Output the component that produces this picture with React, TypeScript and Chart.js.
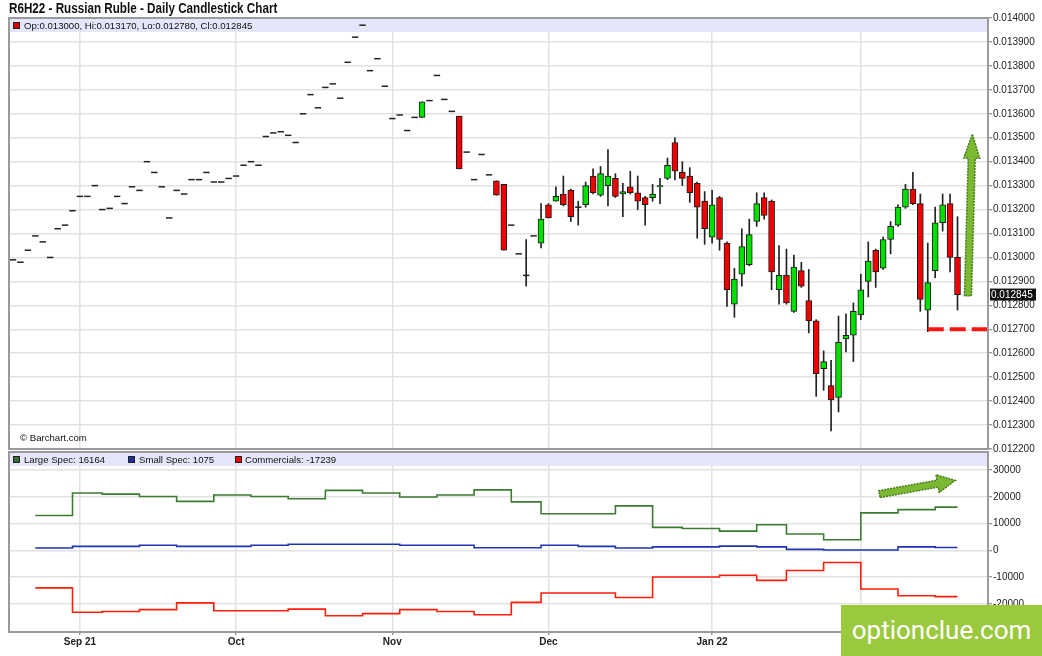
import { useEffect, useRef } from "react";
import { Chart, registerables } from "chart.js";

Chart.register(...registerables);

const FONT = "'Liberation Sans', Arial, Helvetica, sans-serif";
Chart.defaults.font.family = FONT;
Chart.defaults.color = "#222";

// trading days, Aug 19 2021 .. Feb 18 2022 (M/D)
const DATES = [
  "8/19", "8/20", "8/23", "8/24", "8/25", "8/26", "8/27", "8/30", "8/31",
  "9/1", "9/2", "9/3", "9/7", "9/8", "9/9", "9/10", "9/13", "9/14", "9/15", "9/16", "9/17",
  "9/20", "9/21", "9/22", "9/23", "9/24", "9/27", "9/28", "9/29", "9/30",
  "10/1", "10/4", "10/5", "10/6", "10/7", "10/8", "10/11", "10/12", "10/13", "10/14", "10/15",
  "10/18", "10/19", "10/20", "10/21", "10/22", "10/25", "10/26", "10/27", "10/28", "10/29",
  "11/1", "11/2", "11/3", "11/4", "11/5", "11/8", "11/9", "11/10", "11/11", "11/12",
  "11/15", "11/16", "11/17", "11/18", "11/19", "11/22", "11/23", "11/24", "11/26", "11/29", "11/30",
  "12/1", "12/2", "12/3", "12/6", "12/7", "12/8", "12/9", "12/10", "12/13", "12/14", "12/15",
  "12/16", "12/17", "12/20", "12/21", "12/22", "12/23", "12/27", "12/28", "12/29", "12/30", "12/31",
  "1/3", "1/4", "1/5", "1/6", "1/7", "1/10", "1/11", "1/12", "1/13", "1/14",
  "1/18", "1/19", "1/20", "1/21", "1/24", "1/25", "1/26", "1/27", "1/28", "1/31",
  "2/1", "2/2", "2/3", "2/4", "2/7", "2/8", "2/9", "2/10", "2/11", "2/14", "2/15", "2/16", "2/17", "2/18",
];

const OPEN = [
  0.01299, 0.01298, 0.01303, 0.01309, 0.013065, 0.013, 0.01312, 0.013135, 0.013195, 0.013255,
  0.013255, 0.0133, 0.0132, 0.013205, 0.013255, 0.013225, 0.013295, 0.01328, 0.0134, 0.013355,
  0.013295, 0.013165, 0.01328, 0.013265, 0.013325, 0.013325, 0.013355, 0.013315, 0.013315, 0.01333,
  0.01334, 0.013385, 0.0134, 0.013385, 0.013505, 0.01352, 0.013525, 0.01351, 0.01348, 0.0136,
  0.01368, 0.013625, 0.01371, 0.013725, 0.013665, 0.013815, 0.01392, 0.01397, 0.01378, 0.01383,
  0.013715, 0.01358, 0.013595, 0.01353, 0.013585, 0.013585, 0.013655, 0.01376, 0.01366, 0.01361,
  0.01359, 0.01344, 0.013325, 0.01343, 0.013345, 0.01332, 0.013305, 0.013135, 0.013015, 0.012925,
  0.01309, 0.01306, 0.01322, 0.013235, 0.013265, 0.01328, 0.01321, 0.01322, 0.01334, 0.01326,
  0.0133, 0.01333, 0.013265, 0.013295, 0.01327, 0.01325, 0.01325, 0.013295, 0.01333, 0.01348,
  0.013355, 0.01334, 0.01331, 0.013235, 0.013085, 0.01325, 0.01306, 0.012805, 0.01293, 0.01297,
  0.01315, 0.01325, 0.013235, 0.012865, 0.012925, 0.012775, 0.012945, 0.01282, 0.012735, 0.012535,
  0.012465, 0.012415, 0.01266, 0.012675, 0.01276, 0.0129, 0.01303, 0.012955, 0.013075, 0.013135,
  0.01321, 0.013285, 0.013225, 0.01278, 0.012945, 0.013145, 0.013225, 0.013,
];

const HIGH = [
  0.01299, 0.01298, 0.01303, 0.01309, 0.013065, 0.013, 0.01312, 0.013135, 0.013195, 0.013255,
  0.013255, 0.0133, 0.0132, 0.013205, 0.013255, 0.013225, 0.013295, 0.01328, 0.0134, 0.013355,
  0.013295, 0.013165, 0.01328, 0.013265, 0.013325, 0.013325, 0.013355, 0.013315, 0.013315, 0.01333,
  0.01334, 0.013385, 0.0134, 0.013385, 0.013505, 0.01352, 0.013525, 0.01351, 0.01348, 0.0136,
  0.01368, 0.013625, 0.01371, 0.013725, 0.013665, 0.013815, 0.01392, 0.01397, 0.01378, 0.01383,
  0.013715, 0.01358, 0.013595, 0.01353, 0.013585, 0.01365, 0.013655, 0.01376, 0.01366, 0.01361,
  0.01359, 0.01344, 0.013325, 0.01343, 0.013345, 0.01332, 0.013305, 0.013135, 0.013015, 0.013075,
  0.01309, 0.013225, 0.013225, 0.013295, 0.01334, 0.013285, 0.013235, 0.013315, 0.01337, 0.01338,
  0.01345, 0.01335, 0.01331, 0.01336, 0.01334, 0.013255, 0.013305, 0.01333, 0.013415, 0.0135,
  0.0134, 0.013375, 0.013315, 0.013275, 0.01328, 0.013255, 0.013065, 0.012955, 0.01312, 0.01316,
  0.01327, 0.01327, 0.01324, 0.01305, 0.013035, 0.01301, 0.01298, 0.01295, 0.01274, 0.01261,
  0.01257, 0.012755, 0.012765, 0.01281, 0.01293, 0.013065, 0.013035, 0.013085, 0.01315, 0.01322,
  0.013305, 0.013355, 0.013265, 0.01306, 0.01321, 0.013265, 0.013265, 0.01317,
];

const LOW = [
  0.01299, 0.01298, 0.01303, 0.01309, 0.013065, 0.013, 0.01312, 0.013135, 0.013195, 0.013255,
  0.013255, 0.0133, 0.0132, 0.013205, 0.013255, 0.013225, 0.013295, 0.01328, 0.0134, 0.013355,
  0.013295, 0.013165, 0.01328, 0.013265, 0.013325, 0.013325, 0.013355, 0.013315, 0.013315, 0.01333,
  0.01334, 0.013385, 0.0134, 0.013385, 0.013505, 0.01352, 0.013525, 0.01351, 0.01348, 0.0136,
  0.01368, 0.013625, 0.01371, 0.013725, 0.013665, 0.013815, 0.01392, 0.01397, 0.01378, 0.01383,
  0.013715, 0.01358, 0.013595, 0.01353, 0.013585, 0.013585, 0.013655, 0.01376, 0.01366, 0.01361,
  0.01337, 0.01344, 0.013325, 0.01343, 0.013345, 0.01326, 0.01303, 0.013135, 0.013015, 0.01288,
  0.01309, 0.01304, 0.013165, 0.013235, 0.013215, 0.01315, 0.013135, 0.01321, 0.013265, 0.013255,
  0.013215, 0.01325, 0.01317, 0.013265, 0.0132, 0.013135, 0.013235, 0.013225, 0.013325, 0.013325,
  0.0133, 0.01323, 0.01308, 0.013055, 0.01306, 0.01303, 0.012795, 0.01275, 0.01288, 0.012965,
  0.01313, 0.01316, 0.012865, 0.012805, 0.012805, 0.01277, 0.012875, 0.012685, 0.01242, 0.012445,
  0.012275, 0.012355, 0.012605, 0.012565, 0.01274, 0.012835, 0.012875, 0.01295, 0.013015, 0.01313,
  0.013205, 0.01322, 0.012775, 0.01269, 0.012915, 0.01311, 0.01294, 0.01278,
];

const CLOSE = [
  0.01299, 0.01298, 0.01303, 0.01309, 0.013065, 0.013, 0.01312, 0.013135, 0.013195, 0.013255,
  0.013255, 0.0133, 0.0132, 0.013205, 0.013255, 0.013225, 0.013295, 0.01328, 0.0134, 0.013355,
  0.013295, 0.013165, 0.01328, 0.013265, 0.013325, 0.013325, 0.013355, 0.013315, 0.013315, 0.01333,
  0.01334, 0.013385, 0.0134, 0.013385, 0.013505, 0.01352, 0.013525, 0.01351, 0.01348, 0.0136,
  0.01368, 0.013625, 0.01371, 0.013725, 0.013665, 0.013815, 0.01392, 0.01397, 0.01378, 0.01383,
  0.013715, 0.01358, 0.013595, 0.01353, 0.013585, 0.01365, 0.013655, 0.01376, 0.01366, 0.01361,
  0.01337, 0.01344, 0.013325, 0.01343, 0.013345, 0.01326, 0.01303, 0.013135, 0.013015, 0.012925,
  0.01309, 0.01316, 0.013165, 0.013255, 0.01322, 0.01317, 0.01321, 0.0133, 0.01327, 0.01335,
  0.01334, 0.013255, 0.013275, 0.01327, 0.013235, 0.01322, 0.013265, 0.0133, 0.013385, 0.01336,
  0.01333, 0.01327, 0.01321, 0.01312, 0.01322, 0.013075, 0.012865, 0.01291, 0.013045, 0.013095,
  0.013225, 0.013175, 0.01294, 0.012925, 0.01281, 0.01296, 0.01288, 0.012735, 0.012515, 0.012565,
  0.012405, 0.012645, 0.012675, 0.012775, 0.012865, 0.012985, 0.01294, 0.013075, 0.01313, 0.01321,
  0.013285, 0.013225, 0.012825, 0.012895, 0.013145, 0.01322, 0.013, 0.012845,
];

// weekly COT (report Tuesdays)
const COT_DATES = [
  "8/24", "8/31", "9/7", "9/14", "9/21", "9/28", "10/5", "10/12", "10/19", "10/26",
  "11/2", "11/9", "11/16", "11/23", "11/30", "12/7", "12/14", "12/21", "12/28", "1/4",
  "1/11", "1/18", "1/25", "2/1", "2/8", "2/15",
];
const LARGE_SPEC = [
  13000, 21400, 21000, 20100, 18300, 20700, 20100, 19300, 22400, 21400,
  19900, 20700, 22600, 18100, 13700, 13700, 16600, 8600, 8200, 7200,
  9600, 6100, 4000, 14000, 15200, 16164,
];
const SMALL_SPEC = [
  900, 1500, 1500, 1900, 1500, 1500, 1900, 2300, 2300, 2300,
  1900, 1900, 1000, 1000, 1900, 1500, 900, 1300, 1300, 1600,
  1300, 400, 150, 150, 1300, 1075,
];
const COMMERCIALS = [
  -14000, -23100, -22800, -22100, -19600, -22500, -22500, -21900, -24400, -23600,
  -22100, -22800, -24000, -19400, -15900, -15900, -17600, -9900, -9900, -9300,
  -11200, -7500, -4500, -14400, -16900, -17239,
];

const MONTH_KEYS = ["9", "10", "11", "12", "1", "2"];
const MONTH_LABELS = ["Sep 21", "Oct", "Nov", "Dec", "Jan 22", "Feb"];
const PRICE_TICKS = [
  0.0122, 0.0123, 0.0124, 0.0125, 0.0126, 0.0127, 0.0128, 0.0129, 0.013, 0.0131,
  0.0132, 0.0133, 0.0134, 0.0135, 0.0136, 0.0137, 0.0138, 0.0139, 0.014,
];
const COT_TICKS = [-20000, -10000, 0, 10000, 20000, 30000];

// annotations (data units)
const SUPPORT_LEVEL = 0.0127;
const SUPPORT_FROM = "2/14";
const PRICE_ARROW = { from: [128.4, 0.01284], to: [129.0, 0.013515] };
const COT_ARROW = { from: [116.5, 21000], to: [126.7, 26100] };

const X_MIN = -0.54;
const X_MAX = 131.1;
const GRID = "#e2e2e2";
const UP = "#00e000";
const DOWN = "#f20000";

const monthTicks = MONTH_KEYS.map((k) => DATES.findIndex((d) => d.split("/")[0] === k));

function drawArrow(ctx: CanvasRenderingContext2D, x0: number, y0: number, x1: number, y1: number, shaft: number, headW: number, headL: number) {
  const dx = x1 - x0;
  const dy = y1 - y0;
  const len = Math.hypot(dx, dy);
  const ux = dx / len, uy = dy / len;
  const nx = -uy, ny = ux;
  const bx = x1 - ux * headL, by = y1 - uy * headL;
  ctx.save();
  ctx.beginPath();
  ctx.moveTo(x0 + (nx * shaft) / 2, y0 + (ny * shaft) / 2);
  ctx.lineTo(bx + (nx * shaft) / 2, by + (ny * shaft) / 2);
  ctx.lineTo(bx + (nx * headW) / 2, by + (ny * headW) / 2);
  ctx.lineTo(x1, y1);
  ctx.lineTo(bx - (nx * headW) / 2, by - (ny * headW) / 2);
  ctx.lineTo(bx - (nx * shaft) / 2, by - (ny * shaft) / 2);
  ctx.lineTo(x0 - (nx * shaft) / 2, y0 - (ny * shaft) / 2);
  ctx.closePath();
  ctx.fillStyle = "#7cb832";
  ctx.fill();
  ctx.setLineDash([2, 1]);
  ctx.strokeStyle = "#467f1a";
  ctx.lineWidth = 1.5;
  ctx.stroke();
  ctx.restore();
}

function panelPlugin(id: string, arrow: { from: number[]; to: number[] }, shaft: number, headW: number, headL: number) {
  return {
    id,
    beforeDatasetsDraw(chart: any) {
      const { ctx, chartArea: a } = chart;
      ctx.save();
      ctx.fillStyle = "#e6e6fa";
      ctx.fillRect(a.left, a.top, a.right - a.left, 14);
      ctx.restore();
    },
    afterDatasetsDraw(chart: any) {
      const { ctx, chartArea: a, scales } = chart;
      ctx.save();
      ctx.strokeStyle = "#9a9a9a";
      ctx.lineWidth = 2;
      ctx.strokeRect(a.left, a.top, a.right - a.left, a.bottom - a.top);
      ctx.restore();
      drawArrow(
        ctx,
        scales.x.getPixelForValue(arrow.from[0]),
        scales.y.getPixelForValue(arrow.from[1]),
        scales.x.getPixelForValue(arrow.to[0]),
        scales.y.getPixelForValue(arrow.to[1]),
        shaft, headW, headL
      );
    },
  };
}

const lastClosePlugin = {
  id: "lastClose",
  afterDraw(chart: any) {
    const { ctx, chartArea: a, scales } = chart;
    const v = CLOSE[CLOSE.length - 1];
    const y = scales.y.getPixelForValue(v);
    ctx.save();
    ctx.fillStyle = "#111";
    ctx.fillRect(a.right + 2, y - 6, 46, 12);
    ctx.fillStyle = "#fff";
    ctx.font = `10px ${FONT}`;
    ctx.textBaseline = "middle";
    ctx.fillText(v.toFixed(6), a.right + 3, y + 0.5);
    ctx.restore();
  },
};

function PriceChart() {
  const ref = useRef<HTMLCanvasElement | null>(null);

  useEffect(() => {
    if (!ref.current) return;
    const idx = DATES.map((_, i) => i);
    const bodyIdx = idx.filter((i) => OPEN[i] !== CLOSE[i]);
    const bodies = bodyIdx.map((i) => ({ x: i, y: [OPEN[i], CLOSE[i]] }));
    const bodyColors = bodyIdx.map((i) => (CLOSE[i] > OPEN[i] ? UP : DOWN));
    const wicks = idx.filter((i) => HIGH[i] > LOW[i]).map((i) => ({ x: i, y: [LOW[i], HIGH[i]] }));
    const flats = idx.filter((i) => OPEN[i] === CLOSE[i]).map((i) => ({ x: i, y: CLOSE[i] }));

    const chart = new Chart(ref.current, {
      type: "bar",
      data: {
        datasets: [
          {
            type: "bar",
            data: bodies as any,
            backgroundColor: bodyColors,
            borderColor: "#1a1a1a",
            borderWidth: 1,
            borderSkipped: false,
            barThickness: 6,
            grouped: false,
            order: 2,
          },
          {
            type: "bar",
            data: wicks as any,
            backgroundColor: "#222",
            borderWidth: 0,
            barThickness: 1,
            grouped: false,
            order: 3,
          },
          {
            type: "scatter",
            data: flats,
            pointStyle: "line",
            pointRadius: 3.2,
            borderColor: "#222",
            pointBorderColor: "#222",
            borderWidth: 1.5,
            pointBorderWidth: 1.5,
            order: 1,
          },
          {
            type: "line",
            data: [
              { x: DATES.indexOf(SUPPORT_FROM), y: SUPPORT_LEVEL },
              { x: X_MAX, y: SUPPORT_LEVEL },
            ],
            borderColor: "#ff1414",
            borderWidth: 4,
            borderDash: [16, 6],
            pointRadius: 0,
            order: 0,
          },
        ] as any,
      },
      options: {
        animation: false,
        responsive: true,
        maintainAspectRatio: false,
        events: [],
        layout: { padding: { left: 9, top: 18, right: 0, bottom: 11 } },
        plugins: { legend: { display: false }, tooltip: { enabled: false } },
        scales: {
          x: {
            type: "linear",
            min: X_MIN,
            max: X_MAX,
            offset: false,
            afterBuildTicks: (s: any) => {
              s.ticks = monthTicks.map((v) => ({ value: v }));
            },
            afterFit: (s: any) => {
              s.height = 0;
              s.paddingLeft = 0;
              s.paddingRight = 0;
            },
            ticks: { display: false },
            grid: { color: GRID, lineWidth: 1.5, drawTicks: false, offset: false },
            border: { display: false },
          },
          y: {
            position: "right",
            min: 0.0122,
            max: 0.014,
            afterBuildTicks: (s: any) => {
              s.ticks = PRICE_TICKS.map((v) => ({ value: v }));
            },
            afterFit: (s: any) => {
              s.width = 54;
            },
            ticks: {
              callback: (v: any) => Number(v).toFixed(6),
              font: { size: 10 },
              color: "#222",
              padding: 1,
            },
            grid: { color: GRID, lineWidth: 1.5, tickLength: 4, tickColor: "#777", tickWidth: 1 },
            border: { display: false },
          },
        },
      } as any,
      plugins: [panelPlugin("pricePanel", PRICE_ARROW, 7, 16, 24), lastClosePlugin],
    });

    return () => chart.destroy();
  }, []);

  return <canvas ref={ref} />;
}

function CotChart() {
  const ref = useRef<HTMLCanvasElement | null>(null);

  useEffect(() => {
    if (!ref.current) return;
    const last = DATES.length - 1;
    const steps = (vals: number[]) => [
      ...COT_DATES.map((d, k) => ({ x: DATES.indexOf(d), y: vals[k] })),
      { x: last, y: vals[vals.length - 1] },
    ];

    const chart = new Chart(ref.current, {
      type: "line",
      data: {
        datasets: [
          { label: "Large Spec", data: steps(LARGE_SPEC), borderColor: "#3c7b32", borderWidth: 1.6, stepped: "before", pointRadius: 0 },
          { label: "Small Spec", data: steps(SMALL_SPEC), borderColor: "#1f36b0", borderWidth: 1.6, stepped: "before", pointRadius: 0 },
          { label: "Commercials", data: steps(COMMERCIALS), borderColor: "#ff1e0a", borderWidth: 1.6, stepped: "before", pointRadius: 0 },
        ],
      },
      options: {
        animation: false,
        responsive: true,
        maintainAspectRatio: false,
        events: [],
        layout: { padding: { left: 9, top: 2, right: 0, bottom: 0 } },
        plugins: { legend: { display: false }, tooltip: { enabled: false } },
        scales: {
          x: {
            type: "linear",
            min: X_MIN,
            max: X_MAX,
            offset: false,
            afterBuildTicks: (s: any) => {
              s.ticks = monthTicks.map((v) => ({ value: v }));
            },
            afterFit: (s: any) => {
              s.height = 24;
              s.paddingLeft = 0;
              s.paddingRight = 0;
            },
            ticks: {
              callback: (v: any) => MONTH_LABELS[monthTicks.indexOf(Number(v))],
              font: { size: 10, weight: "bold" },
              color: "#222",
              padding: 1,
              autoSkip: false,
              maxRotation: 0,
            },
            grid: { color: GRID, lineWidth: 1.5, tickLength: 3, tickColor: "#999", offset: false },
            border: { display: false },
          },
          y: {
            position: "right",
            min: -30450,
            max: 36720,
            afterBuildTicks: (s: any) => {
              s.ticks = COT_TICKS.map((v) => ({ value: v }));
            },
            afterFit: (s: any) => {
              s.width = 54;
              s.paddingTop = 0;
              s.paddingBottom = 0;
            },
            ticks: {
              callback: (v: any) => String(v),
              font: { size: 10 },
              color: "#222",
              padding: 1,
            },
            grid: { color: GRID, lineWidth: 1.5, tickLength: 4, tickColor: "#777", tickWidth: 1 },
            border: { display: false },
          },
        },
      } as any,
      plugins: [panelPlugin("cotPanel", COT_ARROW, 7, 18, 18)],
    });

    return () => chart.destroy();
  }, []);

  return <canvas ref={ref} />;
}

const abs = (left: number, top: number, extra: any = {}) => ({
  position: "absolute" as const,
  left,
  top,
  whiteSpace: "nowrap" as const,
  ...extra,
});

function Swatch({ left, top, color }: { left: number; top: number; color: string }) {
  return (
    <div
      style={abs(left, top, {
        width: 7,
        height: 7,
        boxSizing: "border-box",
        background: color,
        border: "1px solid #222",
      })}
    />
  );
}

export default function App() {
  const legendText = { fontSize: 9.6, lineHeight: "12px", color: "#111" };
  const last = CLOSE.length - 1;
  return (
    <div
      style={{
        position: "absolute",
        left: 0,
        top: 0,
        width: 1042,
        height: 656,
        background: "#fff",
        overflow: "hidden",
        fontFamily: FONT,
      }}
    >
      <div style={abs(0, 0, { width: 1042, height: 460 })}>
        <PriceChart />
      </div>
      <div style={abs(0, 450, { width: 1042, height: 206 })}>
        <CotChart />
      </div>

      <div
        style={abs(9, 1, {
          fontWeight: "bold",
          fontSize: 14,
          lineHeight: "14px",
          color: "#111",
          transform: "scaleX(0.833)",
          transformOrigin: "0 0",
        })}
      >
        R6H22 - Russian Ruble - Daily Candlestick Chart
      </div>

      <Swatch left={13} top={22} color="#e00000" />
      <div style={abs(24, 20, legendText)}>
        {`Op:${OPEN[last].toFixed(6)}, Hi:${HIGH[last].toFixed(6)}, Lo:${LOW[last].toFixed(6)}, Cl:${CLOSE[last].toFixed(6)}`}
      </div>

      <div style={abs(20, 432, legendText)}>© Barchart.com</div>

      <Swatch left={13} top={456} color="#3c6b33" />
      <div style={abs(24, 454, legendText)}>{`Large Spec: ${LARGE_SPEC[LARGE_SPEC.length - 1]}`}</div>
      <Swatch left={128} top={456} color="#1d2f9a" />
      <div style={abs(139, 454, legendText)}>{`Small Spec: ${SMALL_SPEC[SMALL_SPEC.length - 1]}`}</div>
      <Swatch left={235} top={456} color="#ee0000" />
      <div style={abs(245, 454, legendText)}>{`Commercials: ${COMMERCIALS[COMMERCIALS.length - 1]}`}</div>

      <div
        style={abs(841, 605, {
          width: 201,
          height: 51,
          background: "#9bc93e",
          color: "#fff",
          fontFamily: "Roboto, 'Open Sans', sans-serif",
          fontSize: 26,
          lineHeight: "51px",
          textAlign: "center",
        })}
      >
        optionclue.com
      </div>
    </div>
  );
}
